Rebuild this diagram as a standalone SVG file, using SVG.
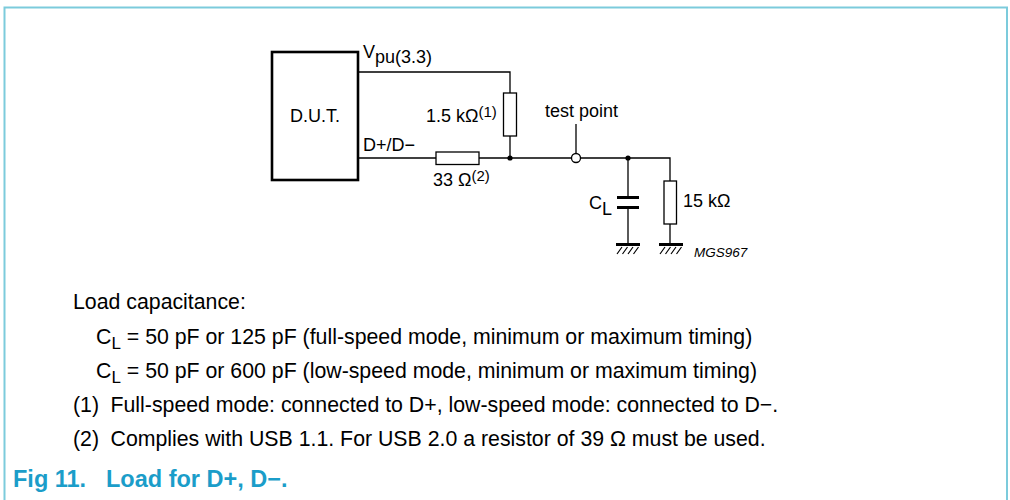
<svg xmlns="http://www.w3.org/2000/svg" width="1010" height="500" viewBox="0 0 1010 500">
<style>
.w{fill:none;stroke:#000;stroke-width:1.3}
.r{fill:#fff;stroke:#000;stroke-width:1.3}
.t{font-family:"Liberation Sans",Arial,sans-serif;font-size:18px;fill:#000}
.b{font-family:"Liberation Sans",Arial,sans-serif;font-size:21.3px;fill:#000}
.gb{stroke:#000;stroke-width:3}
.gh{stroke:#000;stroke-width:1.2}
.cap{font-family:"Liberation Sans",Arial,sans-serif;font-size:23.5px;font-weight:bold;fill:#1b9dc9}
</style>
<rect x="0" y="0" width="1010" height="500" fill="#fff"/>
<path d="M4.5,500 V7.5 H1007 V500" fill="none" stroke="#7ccbdc" stroke-width="2"/>
<g id="connectors">
<path class="w" d="M358,72 H510 V93"/>
<path class="w" d="M510,136 V158"/>
<path class="w" d="M358,158 H436"/>
<path class="w" d="M479,158 H571.5"/>
<path class="w" d="M580.5,158 H670 V181"/>
<path class="w" d="M576,153.5 V124"/>
<path class="w" d="M628,158 V197"/>
<path class="w" d="M628,208 V244"/>
<path class="w" d="M670,224 V244"/>
<circle cx="510" cy="158" r="2.6" fill="#000"/>
<circle cx="628" cy="158" r="2.6" fill="#000"/>
</g>
<g id="dut">
<rect x="272" y="52" width="86" height="128" fill="#fff" stroke="#000" stroke-width="2.6"/>
<text class="t" x="315" y="122" text-anchor="middle" font-size="20.5">D.U.T.</text>
<text class="t" x="363" y="58">V<tspan dy="5">pu(3.3)</tspan></text>
<text class="t" x="363" y="151">D+/D−</text>
</g>
<g id="r-pullup">
<rect class="r" x="503.5" y="93" width="13" height="43"/>
<text class="t" x="426" y="122">1.5 kΩ<tspan dy="-5" font-size="15">(1)</tspan></text>
</g>
<g id="r-series">
<rect class="r" x="436" y="152" width="43" height="12.5"/>
<text class="t" x="433" y="186">33 Ω<tspan dy="-5" font-size="15">(2)</tspan></text>
</g>
<g id="test-point">
<circle cx="576" cy="158" r="4.5" fill="#fff" stroke="#000" stroke-width="1.3"/>
<text class="t" x="545" y="117">test point</text>
</g>
<g id="cap">
<rect x="617" y="196" width="22" height="3" fill="#000"/>
<rect x="617" y="206" width="22" height="3" fill="#000"/>
<text class="t" x="589" y="209" font-size="19">C<tspan dy="6">L</tspan></text>
</g>
<g id="r-load">
<rect class="r" x="664" y="181" width="12.5" height="43"/>
<text class="t" x="683" y="207">15 kΩ</text>
</g>
<g id="gnd1">
<line class="gb" x1="616" y1="244.5" x2="640" y2="244.5"/>
<path class="gh" d="M622,247 L617,254 M627.5,247 L622.5,254 M633,247 L628,254 M638.5,247 L633.5,254"/>
</g>
<g id="gnd2">
<line class="gb" x1="659" y1="244.5" x2="683" y2="244.5"/>
<path class="gh" d="M665,247 L660,254 M670.5,247 L665.5,254 M676,247 L671,254 M681.5,247 L676.5,254"/>
</g>
<text x="694" y="257" font-family="'Liberation Sans',Arial,sans-serif" font-size="13.5" font-style="italic">MGS967</text>
<g id="notes">
<text class="b" x="73" y="309">Load capacitance:</text>
<text class="b" x="96" y="344">C<tspan dy="5" font-size="17">L</tspan><tspan dy="-5"> = 50 pF or 125 pF (full-speed mode, minimum or maximum timing)</tspan></text>
<text class="b" x="96" y="378">C<tspan dy="5" font-size="17">L</tspan><tspan dy="-5"> = 50 pF or 600 pF (low-speed mode, minimum or maximum timing)</tspan></text>
<text class="b" x="73" y="412">(1)</text>
<text class="b" x="110.5" y="412">Full-speed mode: connected to D+, low-speed mode: connected to D−.</text>
<text class="b" x="73" y="446">(2)</text>
<text class="b" x="110.5" y="446">Complies with USB 1.1. For USB 2.0 a resistor of 39 Ω must be used.</text>
</g>
<text class="cap" x="13" y="487">Fig 11.</text>
<text class="cap" x="106" y="487">Load for D+, D−.</text>
</svg>
